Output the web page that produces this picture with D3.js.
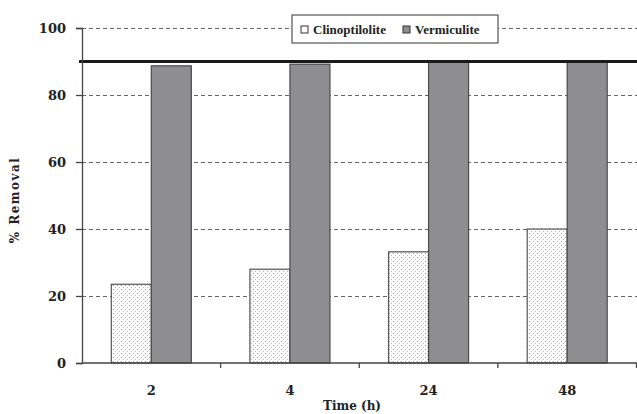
<!DOCTYPE html>
<html lang="en">
<head>
<meta charset="UTF-8">
<title>% Removal vs Time</title>
<script src="https://d3js.org/d3.v7.min.js"></script>
<style>
  body { margin: 0; background: #fff; }
  .tick-label { font-family: "DejaVu Serif", serif; font-weight: bold; font-size: 13px; fill: #222; }
  .legend-text { font-family: "Liberation Serif", serif; font-weight: bold; font-size: 13px; fill: #222; }
</style>
</head>
<body>
<svg id="chart" width="637" height="414"></svg>
<script>
// data
const times = ["2", "4", "24", "48"];
const clinoptilolite = [23.5, 28.0, 33.2, 40.0];
const vermiculite = [88.7, 89.2, 90.0, 90.0];
const yTicks = [0, 20, 40, 60, 80, 100];
const refLevel = 90;

const svg = d3.select("#chart");
const mLeft = 82, mRight = 637, mTop = 28, mBottom = 363;

const x = d3.scaleBand().domain(times).range([mLeft, mRight - 0.5]);
const y = d3.scaleLinear().domain([0, 100]).range([mBottom, mTop]);
const barW = 40;

// dotted fill for clinoptilolite
const defs = svg.append("defs");
const pat = defs.append("pattern")
    .attr("id", "dots")
    .attr("patternUnits", "userSpaceOnUse")
    .attr("width", 4).attr("height", 4);
pat.append("rect").attr("width", 4).attr("height", 4).attr("fill", "#fbfbfb");
pat.append("rect").attr("x", 1).attr("y", 1).attr("width", 1).attr("height", 1).attr("fill", "#9a9a9a");
pat.append("rect").attr("x", 3).attr("y", 3).attr("width", 1).attr("height", 1).attr("fill", "#b5b5b5");

// gridlines
svg.append("g").selectAll("line")
    .data(yTicks.filter(d => d > 0))
    .join("line")
    .attr("x1", mLeft).attr("x2", mRight)
    .attr("y1", d => y(d) + 0.5).attr("y2", d => y(d) + 0.5)
    .attr("stroke", "#666").attr("stroke-width", 1.2)
    .attr("stroke-dasharray", "4,3");

// bars
const bars = svg.append("g");
bars.selectAll(".clino")
    .data(times)
    .join("rect")
    .attr("class", "clino")
    .attr("x", (d) => x(d) + x.bandwidth() / 2 - barW)
    .attr("y", (d, i) => y(clinoptilolite[i]))
    .attr("width", barW)
    .attr("height", (d, i) => y(0) - y(clinoptilolite[i]))
    .attr("fill", "url(#dots)")
    .attr("stroke", "#555").attr("stroke-width", 1.2);

bars.selectAll(".verm")
    .data(times)
    .join("rect")
    .attr("class", "verm")
    .attr("x", (d) => x(d) + x.bandwidth() / 2)
    .attr("y", (d, i) => y(vermiculite[i]))
    .attr("width", barW)
    .attr("height", (d, i) => y(0) - y(vermiculite[i]))
    .attr("fill", "#8e8e91")
    .attr("stroke", "#4a4a4a").attr("stroke-width", 1.2);

// reference line at 90
svg.append("line")
    .attr("x1", 79).attr("x2", mRight)
    .attr("y1", y(refLevel)).attr("y2", y(refLevel))
    .attr("stroke", "#1a1a1a").attr("stroke-width", 3);

// y axis
const yAxis = svg.append("g")
    .attr("transform", `translate(${mLeft},0)`)
    .call(d3.axisLeft(y).tickValues(yTicks).tickSize(6).tickPadding(10));
yAxis.select(".domain").attr("stroke", "#444").attr("stroke-width", 1.3);
yAxis.selectAll(".tick line").attr("stroke", "#444").attr("stroke-width", 1.3);
yAxis.selectAll("text").attr("class", "tick-label").attr("dy", "0.35em");

// x axis: ticks at band edges, labels at band centers
const xAxis = svg.append("g").attr("transform", `translate(0,${mBottom})`);
xAxis.append("line")
    .attr("x1", mLeft).attr("x2", mRight)
    .attr("stroke", "#444").attr("stroke-width", 1.3);
xAxis.selectAll(".xt")
    .data(times)
    .join("line")
    .attr("class", "xt")
    .attr("x1", d => x(d) + x.bandwidth()).attr("x2", d => x(d) + x.bandwidth())
    .attr("y1", 0).attr("y2", 5)
    .attr("stroke", "#444").attr("stroke-width", 1.3);
xAxis.selectAll(".xl")
    .data(times)
    .join("text")
    .attr("class", "tick-label xl")
    .attr("x", d => x(d) + x.bandwidth() / 2)
    .attr("y", 32)
    .attr("text-anchor", "middle")
    .text(d => d);

// axis titles
svg.append("text")
    .attr("class", "tick-label")
    .attr("x", 352).attr("y", 410)
    .attr("text-anchor", "middle")
    .style("font-size", "12px")
    .text("Time (h)");

svg.append("text")
    .attr("class", "tick-label")
    .attr("transform", "translate(19,200) rotate(-90)")
    .attr("text-anchor", "middle")
    .style("font-size", "12px")
    .style("letter-spacing", "1.5px")
    .text("% Removal");

// legend
const legend = svg.append("g").attr("transform", "translate(292,15)");
legend.append("rect")
    .attr("width", 206).attr("height", 28)
    .attr("fill", "#fff").attr("stroke", "#333").attr("stroke-width", 1);
const items = [
    { name: "Clinoptilolite", fill: "#fbfbfb", x: 9 },
    { name: "Vermiculite", fill: "#8e8e91", x: 111 }
];
items.forEach(it => {
    legend.append("rect")
        .attr("x", it.x).attr("y", 11)
        .attr("width", 7).attr("height", 7)
        .attr("fill", it.fill).attr("stroke", "#333").attr("stroke-width", 1);
    legend.append("text")
        .attr("class", "legend-text")
        .attr("x", it.x + 12).attr("y", 19)
        .text(it.name);
});
</script>
</body>
</html>
